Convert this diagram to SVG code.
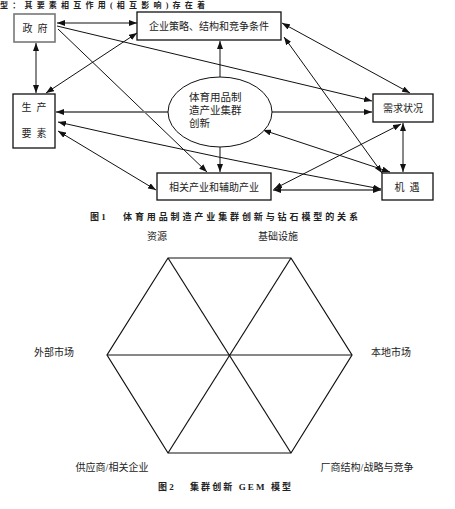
<svg xmlns="http://www.w3.org/2000/svg" width="455" height="509" viewBox="0 0 455 509">
<defs>
<style>
text{font-family:"Liberation Serif","Noto Sans CJK SC",serif;font-size:10px;fill:#222;white-space:pre}
.box{fill:#fff;stroke:#111;stroke-width:1.3}
.c{stroke:#111;stroke-width:1;fill:none}
.g{stroke:#777;stroke-width:2;fill:none}
.hx{stroke:#111;stroke-width:1.2;fill:none}
.cap{font-weight:bold;font-size:9px}
</style>
<marker id="a" viewBox="0 0 8 6" refX="8" refY="3" markerWidth="8" markerHeight="6" markerUnits="userSpaceOnUse" orient="auto-start-reverse">
<path d="M0,0 L8,3 L0,6 z" fill="#111"/>
</marker>
</defs>
<rect width="455" height="509" fill="#fff"/>
<text x="0" y="8" textLength="205" style="font-weight:bold;font-size:8px">型：其要素相互作用(相互影响)存在着</text>

<g id="connectors">
<line class="c" x1="57" y1="23" x2="137" y2="23" marker-start="url(#a)" marker-end="url(#a)"/>
<line class="c" x1="36" y1="43" x2="36" y2="93" marker-start="url(#a)" marker-end="url(#a)"/>
<line class="c" x1="137" y1="33" x2="46" y2="93" marker-start="url(#a)" marker-end="url(#a)"/>
<line class="c" x1="57" y1="26" x2="372" y2="101" marker-end="url(#a)"/>
<line class="c" x1="58" y1="29" x2="207" y2="172" marker-end="url(#a)"/>
<line class="c" x1="220" y1="77" x2="220" y2="41" marker-end="url(#a)"/>
<line class="g" x1="168" y1="112" x2="56" y2="112" marker-end="url(#a)"/>
<line class="g" x1="272" y1="112" x2="372" y2="112" marker-end="url(#a)"/>
<line class="c" x1="220" y1="147" x2="220" y2="172" marker-end="url(#a)"/>
<line class="c" x1="282" y1="23" x2="410" y2="93" marker-start="url(#a)" marker-end="url(#a)"/>
<line class="c" x1="284" y1="37" x2="382" y2="173" marker-start="url(#a)" marker-end="url(#a)"/>
<line class="c" x1="263" y1="130" x2="390" y2="172" marker-start="url(#a)" marker-end="url(#a)"/>
<line class="c" x1="401" y1="124" x2="274" y2="189" marker-start="url(#a)" marker-end="url(#a)"/>
<line class="c" x1="403" y1="123" x2="403" y2="172" marker-start="url(#a)" marker-end="url(#a)"/>
<line class="g" x1="381" y1="190" x2="273" y2="190" marker-start="url(#a)" marker-end="url(#a)"/>
<line class="c" x1="58" y1="131" x2="156" y2="190" marker-start="url(#a)" marker-end="url(#a)"/>
<path class="c" d="M58,122 Q215,158 381,189" marker-start="url(#a)" marker-end="url(#a)"/>
</g>

<g id="zhengfu">
<rect x="14" y="14" width="41" height="28" fill="#fff" stroke="#777" stroke-width="1.6"/>
<text x="35" y="32" text-anchor="middle">政  府</text>
</g>
<g id="qiye">
<rect class="box" x="137" y="12" width="144" height="28" stroke-width="2"/>
<text x="209" y="30" text-anchor="middle">企业策略、结构和竞争条件</text>
</g>
<g id="shengchan">
<rect class="box" x="13" y="94" width="42" height="54" stroke="#444" stroke-width="1"/>
<text x="34" y="111" text-anchor="middle">生  产</text>
<text x="34" y="137" text-anchor="middle">要  素</text>
</g>
<g id="chuangxin">
<ellipse cx="220" cy="112" rx="52" ry="35" fill="#fff" stroke="#111" stroke-width="1"/>
<text x="189" y="101" style="font-size:10.5px">体育用品制</text>
<text x="189" y="114" style="font-size:10.5px">造产业集群</text>
<text x="189" y="127" style="font-size:10.5px">创新</text>
</g>
<g id="xuqiu">
<rect class="box" x="373" y="94" width="60" height="28"/>
<text x="403" y="112" text-anchor="middle">需求状况</text>
</g>
<g id="xiangguan">
<rect class="box" x="157" y="173" width="114" height="27"/>
<text x="214" y="191" text-anchor="middle">相关产业和辅助产业</text>
</g>
<g id="jiyu">
<rect class="box" x="382" y="173" width="51" height="27" stroke-width="1"/>
<text x="407" y="191" text-anchor="middle">机  遇</text>
</g>

<text class="cap" x="90" y="220">图 1</text>
<text class="cap" x="123" y="220" textLength="235">体育用品制造产业集群创新与钻石模型的关系</text>

<g id="hexagon">
<polygon class="hx" points="168,258 291,258 352,355 291,453 168,453 107,355"/>
<line class="hx" x1="168" y1="258" x2="291" y2="453"/>
<line class="hx" x1="291" y1="258" x2="168" y2="453"/>
<line class="hx" x1="107" y1="355" x2="352" y2="355"/>
</g>
<g id="labels">
<text x="157" y="240" text-anchor="middle">资源</text>
<text x="278" y="240" text-anchor="middle">基础设施</text>
<text x="54" y="356" text-anchor="middle">外部市场</text>
<text x="391" y="356" text-anchor="middle">本地市场</text>
<text x="112" y="471" text-anchor="middle">供应商/相关企业</text>
<text x="367" y="471" text-anchor="middle">厂商结构/战略与竞争</text>
</g>
<text class="cap" x="158" y="490">图 2</text>
<text class="cap" x="190" y="490" textLength="101">集群创新 GEM 模型</text>
</svg>
